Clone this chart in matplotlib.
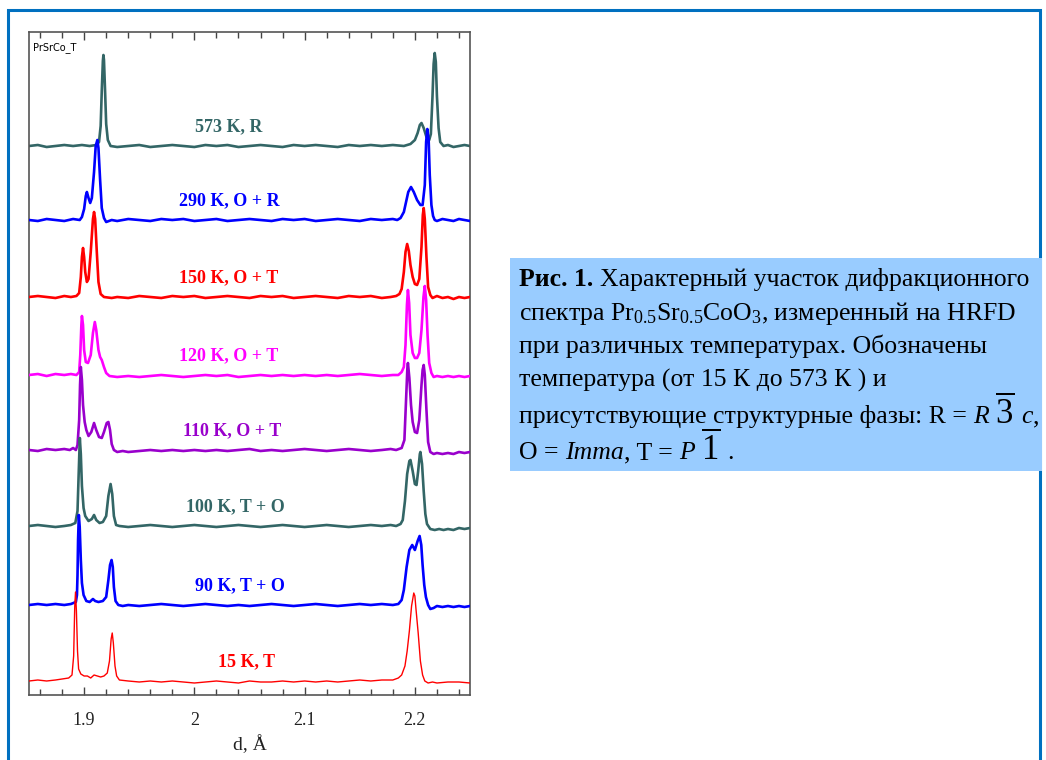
import numpy as np
import matplotlib
matplotlib.use("Agg")
import matplotlib.pyplot as plt
from matplotlib.patches import Rectangle
from matplotlib.ticker import MultipleLocator

plt.rcParams['font.family'] = ['Liberation Serif', 'DejaVu Serif']
plt.rcParams['mathtext.fontset'] = 'custom'
plt.rcParams['mathtext.rm'] = 'Liberation Serif'
plt.rcParams['mathtext.it'] = 'Liberation Serif:italic'
plt.rcParams['mathtext.bf'] = 'Liberation Serif:bold'

# spectra: (d, intensity above own baseline)
pts_573 = [(1.850,0),(1.858,1),(1.866,-1),(1.874,0),(1.882,1),(1.890,0),(1.898,1),(1.905,0),(1.911,1),(1.9135,4),(1.915,20),(1.916,55),(1.917,85),(1.9175,91),(1.918,86),(1.919,55),(1.920,22),(1.9215,6),(1.924,0),(1.930,-1),(1.940,0),(1.950,1),(1.960,-1),(1.970,0),(1.980,1),(1.990,0),(2.000,-1),(2.010,1),(2.020,0),(2.030,1),(2.040,-1),(2.050,0),(2.060,1),(2.070,0),(2.080,-1),(2.090,1),(2.100,0),(2.110,1),(2.120,0),(2.130,-1),(2.140,1),(2.150,0),(2.160,1),(2.170,0),(2.180,1),(2.190,0),(2.196,2),(2.200,6),(2.2025,13),(2.2045,21),(2.206,23),(2.208,18),(2.2105,9),(2.213,6),(2.2145,12),(2.216,50),(2.217,82),(2.218,93),(2.219,84),(2.220,50),(2.2215,18),(2.223,4),(2.226,0),(2.230,1),(2.235,-1),(2.240,0),(2.245,1),(2.250,0)]
pts_290 = [(1.850,0),(1.858,-1),(1.866,1),(1.874,0),(1.882,-1),(1.890,1),(1.896,0),(1.898,3),(1.900,11),(1.9015,24),(1.9025,28),(1.904,22),(1.9055,17),(1.907,22),(1.909,48),(1.9105,74),(1.912,80),(1.913,72),(1.9145,40),(1.916,12),(1.918,2),(1.920,-2),(1.925,0),(1.930,-1),(1.940,1),(1.950,0),(1.960,-1),(1.970,1),(1.980,0),(1.990,1),(2.000,-1),(2.010,0),(2.020,1),(2.030,-1),(2.040,0),(2.050,1),(2.060,0),(2.070,-1),(2.080,1),(2.090,0),(2.100,1),(2.110,-1),(2.120,0),(2.130,1),(2.140,0),(2.150,-1),(2.160,1),(2.170,0),(2.180,1),(2.184,0),(2.187,2),(2.190,8),(2.192,18),(2.194,28),(2.1965,33),(2.199,28),(2.202,20),(2.205,15),(2.207,15),(2.209,35),(2.2102,78),(2.2113,91),(2.2125,80),(2.2135,45),(2.215,15),(2.2165,4),(2.218,0),(2.220,-1),(2.225,1),(2.230,0),(2.235,-1),(2.240,1),(2.245,0),(2.250,-1)]
pts_150 = [(1.850,0),(1.858,1),(1.866,0),(1.874,-1),(1.882,1),(1.888,0),(1.893,1),(1.8955,4),(1.897,20),(1.898,40),(1.899,49),(1.900,40),(1.901,25),(1.9025,15),(1.904,18),(1.906,45),(1.908,78),(1.909,85),(1.910,78),(1.9115,45),(1.913,15),(1.915,3),(1.918,0),(1.925,-1),(1.930,0),(1.940,-1),(1.950,1),(1.960,0),(1.970,-1),(1.980,1),(1.990,0),(2.000,1),(2.010,-1),(2.020,0),(2.030,1),(2.040,0),(2.050,-1),(2.060,1),(2.070,0),(2.080,1),(2.090,-1),(2.100,0),(2.110,1),(2.120,0),(2.130,-1),(2.140,1),(2.150,0),(2.160,1),(2.170,-1),(2.178,0),(2.183,1),(2.186,3),(2.188,8),(2.190,25),(2.1915,45),(2.193,53),(2.1945,46),(2.196,32),(2.198,20),(2.200,13),(2.202,12),(2.204,18),(2.206,50),(2.2072,82),(2.208,89),(2.209,78),(2.2105,40),(2.212,10),(2.214,2),(2.216,-1),(2.220,1),(2.225,-1),(2.230,0),(2.235,-2),(2.240,0),(2.245,-1),(2.250,0)]
pts_120 = [(1.850,0),(1.858,1),(1.866,-1),(1.874,1),(1.882,0),(1.888,1),(1.893,0),(1.8955,3),(1.8965,20),(1.8975,50),(1.898,59),(1.899,50),(1.900,25),(1.9015,13),(1.9035,12),(1.906,20),(1.908,42),(1.9097,53),(1.911,45),(1.913,25),(1.9145,18),(1.916,15),(1.918,8),(1.920,2),(1.923,-1),(1.930,-2),(1.940,-1),(1.950,-2),(1.960,-1),(1.970,0),(1.980,-1),(1.990,-2),(2.000,-1),(2.010,0),(2.020,-1),(2.030,0),(2.040,-2),(2.050,-1),(2.060,0),(2.070,-1),(2.080,0),(2.090,-1),(2.100,0),(2.110,-1),(2.120,0),(2.130,-1),(2.140,0),(2.150,1),(2.160,0),(2.170,-1),(2.180,0),(2.185,0),(2.188,3),(2.190,8),(2.1915,30),(2.1928,70),(2.1937,85),(2.1948,72),(2.196,40),(2.198,22),(2.200,17),(2.202,17),(2.204,22),(2.206,45),(2.2078,78),(2.209,89),(2.2102,75),(2.2115,40),(2.213,12),(2.215,2),(2.217,-2),(2.220,-1),(2.225,-2),(2.230,-1),(2.235,-2),(2.240,-1),(2.245,-2),(2.250,-1)]
pts_110 = [(1.850,0),(1.858,-1),(1.866,1),(1.874,0),(1.882,1),(1.887,0),(1.890,2),(1.8925,0),(1.894,5),(1.8955,30),(1.8963,65),(1.897,83),(1.898,70),(1.899,45),(1.9005,28),(1.902,20),(1.904,14),(1.9065,18),(1.909,27),(1.911,20),(1.9135,13),(1.916,12),(1.918,18),(1.9205,27),(1.922,28),(1.9235,20),(1.925,6),(1.927,0),(1.930,-2),(1.935,-1),(1.940,-2),(1.950,-1),(1.960,0),(1.970,-1),(1.980,0),(1.990,-1),(2.000,0),(2.010,-1),(2.020,0),(2.030,-1),(2.040,0),(2.050,1),(2.060,-1),(2.070,0),(2.080,-1),(2.090,0),(2.100,1),(2.110,0),(2.120,-1),(2.130,0),(2.140,1),(2.150,0),(2.160,-1),(2.170,0),(2.178,1),(2.183,0),(2.188,2),(2.1905,10),(2.192,50),(2.1932,82),(2.1937,87),(2.195,72),(2.1965,45),(2.198,28),(2.200,18),(2.202,17),(2.204,30),(2.206,65),(2.207,80),(2.208,85),(2.209,75),(2.2105,40),(2.212,8),(2.214,-2),(2.217,-4),(2.220,-3),(2.225,-4),(2.230,-3),(2.235,-4),(2.240,-2),(2.245,-3),(2.250,-2)]
pts_100 = [(1.850,0),(1.858,1),(1.866,0),(1.874,-1),(1.882,0),(1.888,1),(1.892,3),(1.894,15),(1.895,50),(1.8961,88),(1.897,72),(1.898,40),(1.8995,18),(1.901,10),(1.904,5),(1.907,7),(1.909,11),(1.911,6),(1.914,3),(1.917,4),(1.920,10),(1.922,30),(1.924,42),(1.9255,32),(1.927,10),(1.929,1),(1.932,0),(1.940,-1),(1.950,0),(1.960,1),(1.970,0),(1.980,-1),(1.990,0),(2.000,1),(2.010,0),(2.020,-1),(2.030,0),(2.040,1),(2.050,0),(2.060,-1),(2.070,0),(2.080,1),(2.090,0),(2.100,-1),(2.110,0),(2.120,1),(2.130,0),(2.140,-1),(2.150,0),(2.160,1),(2.170,0),(2.178,1),(2.183,0),(2.187,2),(2.189,6),(2.191,25),(2.193,52),(2.195,65),(2.196,66),(2.198,55),(2.200,42),(2.2015,41),(2.203,55),(2.2045,72),(2.205,74),(2.2065,62),(2.208,35),(2.2095,12),(2.211,2),(2.214,-3),(2.218,-4),(2.222,-3),(2.226,-4),(2.230,-3),(2.235,-4),(2.240,-2),(2.245,-3),(2.250,-2)]
pts_90 = [(1.850,0),(1.858,1),(1.866,0),(1.874,1),(1.882,0),(1.888,1),(1.8925,3),(1.8935,10),(1.894,30),(1.8945,65),(1.8952,90),(1.896,78),(1.897,45),(1.898,22),(1.8995,10),(1.902,4),(1.905,3),(1.908,6),(1.910,4),(1.913,3),(1.917,4),(1.920,8),(1.922,25),(1.9235,40),(1.9249,45),(1.926,38),(1.927,18),(1.9285,4),(1.931,0),(1.935,-1),(1.940,0),(1.950,-1),(1.960,0),(1.970,1),(1.980,0),(1.990,-1),(2.000,0),(2.010,1),(2.020,0),(2.030,-1),(2.040,0),(2.050,-1),(2.060,0),(2.070,1),(2.080,0),(2.090,-1),(2.100,0),(2.110,1),(2.120,0),(2.130,-1),(2.140,0),(2.150,1),(2.160,0),(2.170,1),(2.180,0),(2.185,1),(2.188,5),(2.190,15),(2.1925,38),(2.195,55),(2.1976,60),(2.200,55),(2.2025,64),(2.2043,69),(2.2058,60),(2.207,40),(2.2085,20),(2.210,8),(2.212,0),(2.214,-4),(2.217,-3),(2.220,-1),(2.225,-2),(2.230,-1),(2.235,-2),(2.240,-1),(2.245,-2),(2.250,-1)]
pts_15 = [(1.850,0),(1.858,1),(1.866,0),(1.874,1),(1.880,2),(1.886,3),(1.889,6),(1.8905,25),(1.8915,75),(1.8922,89),(1.893,70),(1.894,30),(1.895,12),(1.897,7),(1.900,5),(1.903,5),(1.906,3),(1.909,6),(1.912,5),(1.915,4),(1.918,5),(1.921,8),(1.923,20),(1.9245,42),(1.9255,48),(1.9265,38),(1.928,15),(1.9295,5),(1.932,1),(1.940,0),(1.950,-1),(1.960,0),(1.970,-1),(1.980,0),(1.990,-1),(2.000,-2),(2.010,-1),(2.020,0),(2.030,-1),(2.040,-2),(2.050,0),(2.060,-1),(2.070,-1),(2.080,0),(2.090,-1),(2.100,0),(2.110,-1),(2.120,0),(2.130,-1),(2.140,0),(2.150,1),(2.160,0),(2.170,1),(2.180,1),(2.185,3),(2.188,6),(2.191,15),(2.193,30),(2.195,50),(2.197,75),(2.199,88),(2.200,85),(2.201,72),(2.203,48),(2.205,20),(2.207,6),(2.209,0),(2.212,-2),(2.216,-1),(2.220,-2),(2.230,-1),(2.240,-1),(2.250,-2)]

spectra = [pts_573, pts_290, pts_150, pts_120, pts_110, pts_100, pts_90, pts_15]
labels = ["573 K, R", "290 K, O + R", "150 K, O + T", "120 K, O + T",
          "110 K, O + T", "100 K, T + O", "90 K, T + O", "15 K, T"]
offsets = [549, 475, 398, 320, 245, 169, 90, 14]
label_d = [2.031, 2.032, 2.031, 2.031, 2.034, 2.037, 2.041, 2.047]

colors = ["#336666", "#0000FF", "#FF0000", "#FF00FF", "#9900CC", "#336666", "#0000FF", "#FF0000"]
widths = [1.9, 1.9, 1.9, 1.9, 1.9, 1.9, 1.9, 1.0]

W, H = 1046, 760
fig = plt.figure(figsize=(W / 100, H / 100), dpi=100)
ax = fig.add_axes([29 / W, 1 - 695 / H, (470 - 29) / W, (695 - 32) / H])

for i, pts in enumerate(spectra):
    d, inten = np.array(pts).T
    ax.plot(d, inten + offsets[i], color=colors[i], lw=widths[i], zorder=2 + i)
    ax.text(label_d[i], offsets[i] + 19, labels[i], color=colors[i], fontsize=13,
            fontweight='bold', ha='center', va='center')

ax.set_xlim(1.85, 2.25)
ax.set_ylim(0, 663)
ax.set_yticks([])
ax.set_xticks([1.9, 2.0, 2.1, 2.2])
ax.set_xticklabels(['1.9', '2', '2.1', '2.2'])
ax.xaxis.set_minor_locator(MultipleLocator(0.02))
ax.tick_params(axis='x', which='both', direction='in', top=True, colors='#444444',
               labelcolor='#222222', labelsize=13, pad=12)
ax.tick_params(axis='x', which='major', length=6, width=1)
ax.tick_params(axis='x', which='minor', length=4, width=1)
for sp in ax.spines.values():
    sp.set_color('#555555')
    sp.set_linewidth(1.2)
ax.set_xlabel('d, Å', fontsize=14, labelpad=5, color='#222222')
ax.text(0.01, 0.985, 'PrSrCo_T', transform=ax.transAxes, fontsize=7,
        family='DejaVu Sans', ha='left', va='top')

# outer blue frame
fig.add_artist(Rectangle((8 / W, -0.05), (1040 - 8) / W, 1.05 - 10 / H,
                         transform=fig.transFigure, fill=False,
                         ec='#0070C0', lw=2.2))
# caption box
fig.add_artist(Rectangle((510 / W, 1 - 471 / H), (1042 - 510) / W, (471 - 258) / H,
                         transform=fig.transFigure, fc='#99CCFF', ec='none'))

r = fig.canvas.get_renderer()
fs = 18.5
space = 0.25 * fs * 100 / 72


def put_line(x, y, runs):
    for s, kw in runs:
        if s == ' ':
            x += space
            continue
        t = fig.text(x / W, 1 - y / H, s, ha='left', va='baseline', **kw)
        x += t.get_window_extent(r).width


norm = dict(fontsize=fs)
bold = dict(fontsize=fs, fontweight='bold')
ital = dict(fontsize=fs, style='italic')
big = dict(fontsize=25)

put_line(519, 286, [("Рис. 1.", bold), (' ', None), ("Характерный участок дифракционного", norm)])
put_line(519, 320, [("спектра Pr$_{0.5}$Sr$_{0.5}$CoO$_3$, измеренный на HRFD", norm)])
put_line(519, 353, [("при различных температурах. Обозначены", norm)])
put_line(519, 387, [("температура (от 15 К до 573 К ) и", norm)])
put_line(519, 423, [("присутствующие структурные фазы: R =", norm), (' ', None), ("R", ital),
                    (' ', None), (r"$\overline{3}$", big), (' ', None), ("c", ital), (",", norm)])
put_line(519, 459, [("O =", norm), (' ', None), ("Imma", ital), (", T =", norm), (' ', None),
                    ("P", ital), (' ', None), (r"$\overline{1}$", big), (' ', None), (".", norm)])

fig.savefig('out.png', dpi=100)
